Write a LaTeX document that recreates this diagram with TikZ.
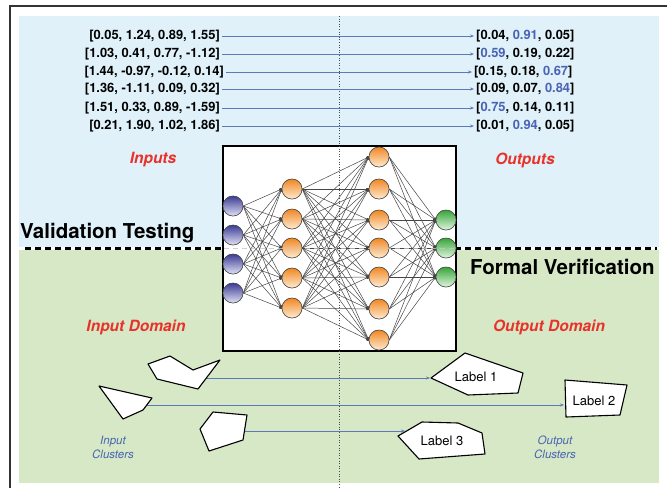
\documentclass[tikz,border=0pt]{standalone}
\usepackage{fontspec}
\setmainfont{TeX Gyre Heros}
\usetikzlibrary{arrows.meta}
\definecolor{bgblue}{RGB}{224,241,250}
\definecolor{bggreen}{RGB}{214,232,198}
\definecolor{titlered}{RGB}{232,50,42}
\definecolor{hlblue}{RGB}{72,100,178}
\definecolor{arrblue}{RGB}{95,120,185}
\definecolor{nnline}{RGB}{70,70,70}
\tikzset{
  vec/.style={font=\fontsize{12.9}{14}\selectfont\bfseries, inner sep=2pt},
  heading/.style={font=\fontsize{15.5}{17}\selectfont\bfseries\itshape, text=titlered},
  section/.style={font=\fontsize{20.5}{22}\selectfont\bfseries, inner sep=0pt},
  clusterlbl/.style={font=\fontsize{11.5}{14}\selectfont\itshape, text=hlblue, align=center},
  labeltxt/.style={font=\fontsize{13}{15}\selectfont},
  vecarrow/.style={draw=arrblue, line width=0.6pt, -{Stealth[length=4pt,width=3pt]}},
  poly/.style={draw=black, fill=white, line width=1.1pt, line join=round},
  neuron/.style={circle, minimum size=20pt, inner sep=0pt, draw=gray!60!black, line width=0.5pt},
  inN/.style={neuron, top color={rgb,255:red,60;green,60;blue,150}, bottom color={rgb,255:red,225;green,225;blue,245}},
  hidN/.style={neuron, top color={rgb,255:red,240;green,135;blue,35}, bottom color={rgb,255:red,255;green,235;blue,210}},
  outN/.style={neuron, top color={rgb,255:red,55;green,165;blue,55}, bottom color={rgb,255:red,225;green,245;blue,225}},
  conn/.style={draw=nnline, line width=0.5pt, -{Square[length=2.4pt,width=2.4pt]}}
}
\begin{document}
\begin{tikzpicture}[x=1pt,y=-1pt]
\useasboundingbox (0,0) rectangle (667,488);
% backgrounds
\fill[bgblue] (19,16) rectangle (659,247);
\fill[bggreen] (19,250) rectangle (659,483);
\draw[line width=1.3pt, black!80] (10,488) -- (10,6) -- (667,6);
% dashed separator
\draw[line width=2.6pt, dash pattern=on 6pt off 4pt] (25,248.5) -- (657,248.5);
% NN box
\draw[line width=1.4pt, fill=white] (223,146) rectangle (456,351);
% neurons
\foreach \y [count=\k] in {206,235,264,293} \node[inN] (i\k) at (233,\y) {};
\foreach \y [count=\k] in {189,219,248,278,308} \node[hidN] (h\k) at (292,\y) {};
\foreach \y [count=\k] in {157,189,220,248,277,309,340} \node[hidN] (g\k) at (379,\y) {};
\foreach \y [count=\k] in {220,248,277} \node[outN] (o\k) at (446,\y) {};
% connections
\foreach \a in {1,...,4} \foreach \b in {1,...,5} \draw[conn] (i\a.east) -- (h\b.west);
\foreach \a in {1,...,5} \foreach \b in {1,...,7} \draw[conn] (h\a.east) -- (g\b.west);
\foreach \a in {1,...,7} \foreach \b in {1,...,3} \draw[conn] (g\a.east) -- (o\b.west);
% redraw neurons on top
\foreach \y in {206,235,264,293} \node[inN] at (233,\y) {};
\foreach \y in {189,219,248,278,308} \node[hidN] at (292,\y) {};
\foreach \y in {157,189,220,248,277,309,340} \node[hidN] at (379,\y) {};
\foreach \y in {220,248,277} \node[outN] at (446,\y) {};
% faint dashed line through the box
\draw[gray!45, line width=1.2pt, dash pattern=on 5pt off 4pt, opacity=0.8] (224,248.5) -- (455,248.5);
% vertical dotted line
\draw[black!70, dotted, line width=0.6pt] (339,16) -- (339,488);
% input / output vectors
\node[vec, anchor=east] (in1) at (222,36) {[0.05, 1.24, 0.89, 1.55]};
\node[vec, anchor=east] (in2) at (222,54) {[1.03, 0.41, 0.77, -1.12]};
\node[vec, anchor=east] (in3) at (226,72) {[1.44, -0.97, -0.12, 0.14]};
\node[vec, anchor=east] (in4) at (222,89) {[1.36, -1.11, 0.09, 0.32]};
\node[vec, anchor=east] (in5) at (222,108) {[1.51, 0.33, 0.89, -1.59]};
\node[vec, anchor=east] (in6) at (222,126) {[0.21, 1.90, 1.02, 1.86]};
\node[vec, anchor=west] (out1) at (474,36) {[0.04, \textcolor{hlblue}{0.91}, 0.05]};
\node[vec, anchor=west] (out2) at (474,54) {[\textcolor{hlblue}{0.59}, 0.19, 0.22]};
\node[vec, anchor=west] (out3) at (472,72) {[0.15, 0.18, \textcolor{hlblue}{0.67}]};
\node[vec, anchor=west] (out4) at (474,89) {[0.09, 0.07, \textcolor{hlblue}{0.84}]};
\node[vec, anchor=west] (out5) at (474,108) {[\textcolor{hlblue}{0.75}, 0.14, 0.11]};
\node[vec, anchor=west] (out6) at (474,126) {[0.01, \textcolor{hlblue}{0.94}, 0.05]};
\foreach \k in {1,...,6} \draw[vecarrow] (in\k.east) -- (out\k.west);
% headings
\node[heading] (hin) at (153,160) {Inputs};
\node[heading] (hout) at (525,160) {Outputs};
\node[heading] (hind) at (136,327) {Input Domain};
\node[heading] (houtd) at (549,327) {Output Domain};
\node[section, anchor=west] (vt) at (20,233) {Validation Testing};
\node[section, anchor=west] (fv) at (470,267) {Formal Verification};
% cluster connectors
\coordinate (c1) at (200,378);
\coordinate (c2) at (145,405);
\coordinate (c3) at (240,431);
\coordinate (t1) at (430,378);
\coordinate (t2) at (564,405);
\coordinate (t3) at (405,431);
\draw[vecarrow] (c1) -- (t1);
\draw[vecarrow] (c2) -- (t2);
\draw[vecarrow] (c3) -- (t3);
% input clusters
\draw[poly] (148,364) -- (170,356) -- (193,370) -- (220,360) -- (198,389) -- (157,379) -- cycle;
\draw[poly] (99,386) -- (152,398) -- (143,410) -- (123,419) -- cycle;
\draw[poly] (200,429) -- (213,412) -- (247,415) -- (243,440) -- (209,451) -- cycle;
% output clusters
\draw[poly] (431,378) -- (465,353) -- (523,373) -- (518,393) -- (468,395) -- cycle;
\draw[poly] (565,380) -- (627,385) -- (620,415) -- (566,417) -- cycle;
\draw[poly] (398,436) -- (422,422) -- (458,423) -- (482,433) -- (485,454) -- (419,459) -- cycle;
\node[labeltxt] (l1) at (476,377) {Label 1};
\node[labeltxt] (l2) at (594,401) {Label 2};
\node[labeltxt] (l3) at (442,441) {Label 3};
\node[clusterlbl] (icl) at (113,447) {Input\\Clusters};
\node[clusterlbl] (ocl) at (555,447) {Output\\Clusters};
\end{tikzpicture}
\end{document}
